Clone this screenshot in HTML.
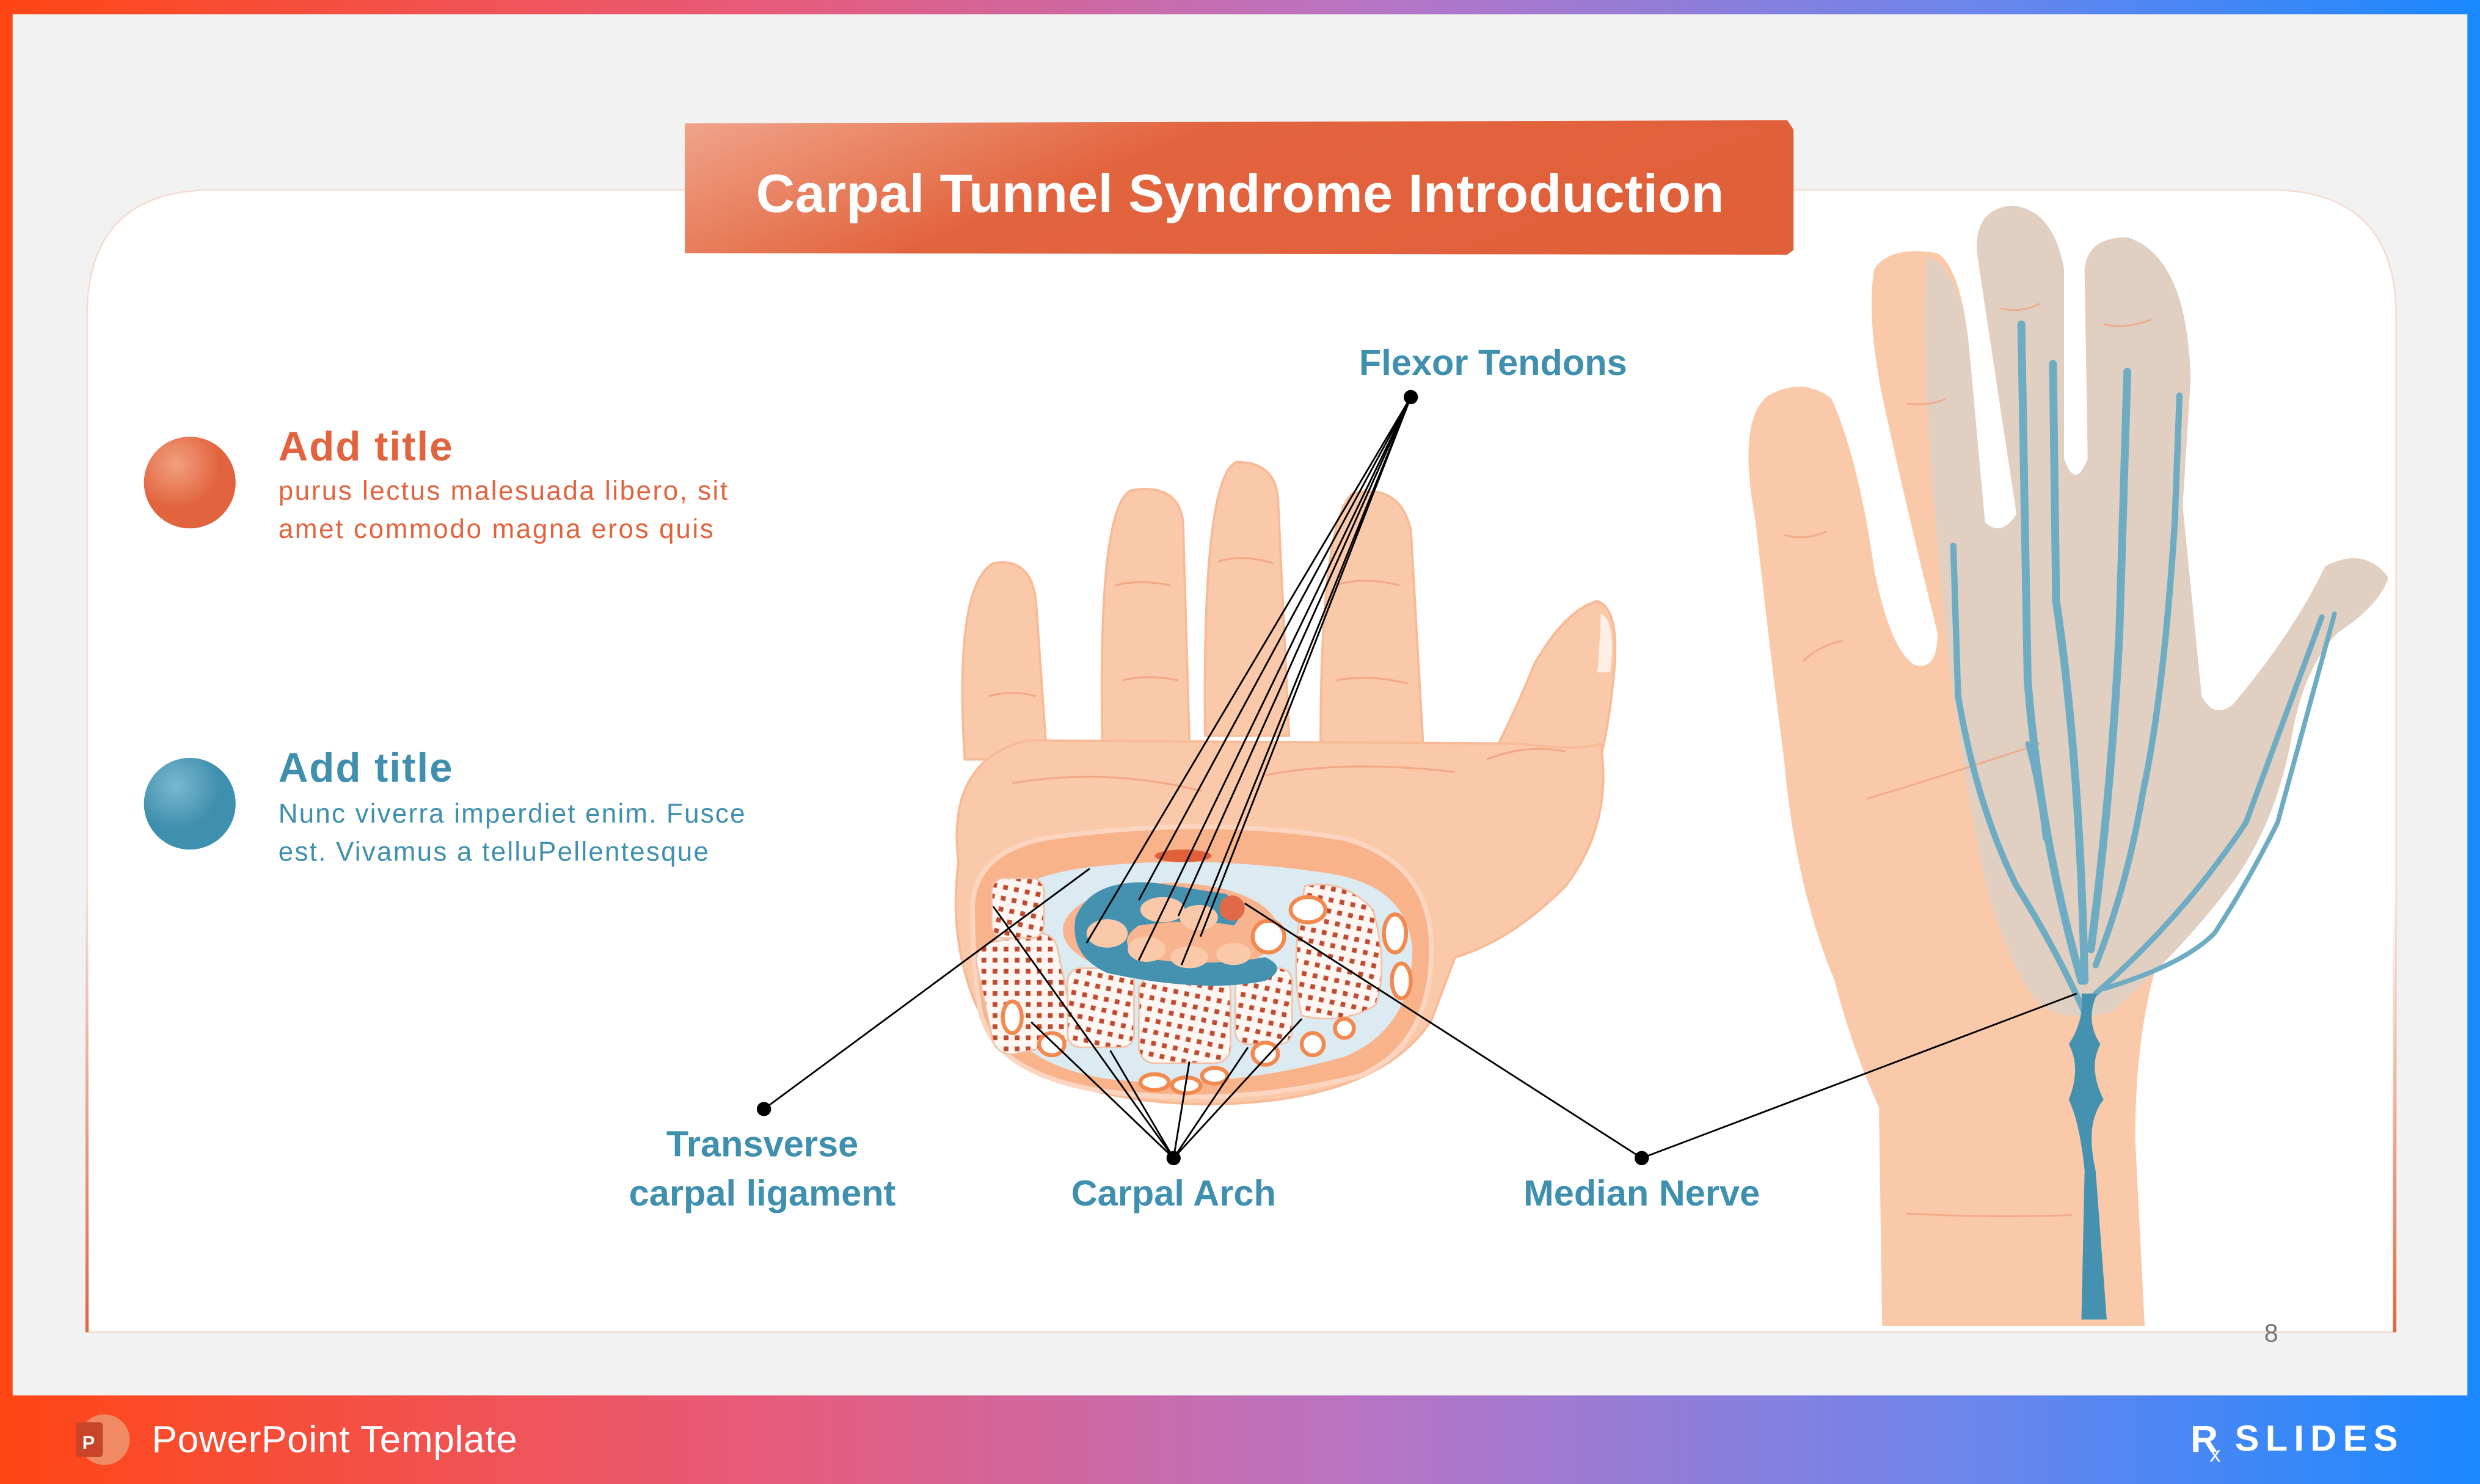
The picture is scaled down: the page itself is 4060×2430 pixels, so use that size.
<!DOCTYPE html>
<html><head><meta charset="utf-8"><style>
html,body{margin:0;padding:0;background:#f2f2f2;}
svg{display:block;}
text{font-family:"Liberation Sans",sans-serif;}
</style></head><body>
<svg width="4060" height="2430" viewBox="0 0 1568 938" preserveAspectRatio="none" xmlns="http://www.w3.org/2000/svg">
<defs>
<linearGradient id="band" x1="0" x2="1" y1="0" y2="0">
<stop offset="0" stop-color="#ff4614"/><stop offset="0.3" stop-color="#e85a78"/><stop offset="0.55" stop-color="#b874c4"/><stop offset="0.8" stop-color="#6a86ec"/><stop offset="1" stop-color="#1a88ff"/></linearGradient>
<linearGradient id="ttl" x1="0" x2="1" y1="0" y2="0.3"><stop offset="0" stop-color="#f0a48a"/><stop offset="0.45" stop-color="#e2643e"/><stop offset="1" stop-color="#e0603a"/></linearGradient>
<radialGradient id="co" cx="0.35" cy="0.3" r="0.8"><stop offset="0" stop-color="#f2a080"/><stop offset="0.6" stop-color="#e2643e"/></radialGradient>
<radialGradient id="cb" cx="0.35" cy="0.3" r="0.8"><stop offset="0" stop-color="#7ab8d0"/><stop offset="0.6" stop-color="#3f8fae"/></radialGradient>
<linearGradient id="edge" x1="0" x2="0" y1="0" y2="1"><stop offset="0" stop-color="#e2643e" stop-opacity="0"/><stop offset="1" stop-color="#e2643e"/></linearGradient>
<pattern id="dots" width="7" height="7" patternUnits="userSpaceOnUse" patternTransform="rotate(12)"><rect width="7" height="7" fill="#fdf6f2"/><rect x="2" y="2" width="3" height="3" fill="#c24a2e"/></pattern>
</defs>
<rect x="0" y="0" width="1568" height="938" fill="#f2f2f2"/>
<rect x="0" y="0" width="1568" height="9" fill="url(#band)"/>
<rect x="0" y="0" width="8" height="938" fill="#ff4614"/>
<rect x="1560" y="0" width="8" height="938" fill="#1a88ff"/>
<rect x="0" y="882" width="1568" height="56" fill="url(#band)"/>
<path d="M55,842 V200 Q55,120 135,120 H1435 Q1515,120 1515,200 V842 Z" fill="#fff" stroke="#f3ddd2" stroke-width="1"/>
<rect x="54" y="560" width="2" height="282" fill="url(#edge)"/>
<rect x="1513" y="560" width="2" height="282" fill="url(#edge)"/>
<path d="M433,78 L1130,76 L1134,82 L1134,158 L1130,161 L433,160 Z" fill="url(#ttl)"/>
<text x="784" y="134" font-size="34" font-weight="bold" fill="#fff" text-anchor="middle" textLength="612">Carpal Tunnel Syndrome Introduction</text>
<circle cx="120" cy="305" r="29" fill="url(#co)"/>
<text x="176" y="291" font-size="26" font-weight="bold" fill="#e2643e" textLength="110">Add title</text>
<text x="176" y="316" font-size="17" fill="#e2643e" textLength="284">purus lectus malesuada libero, sit</text>
<text x="176" y="340" font-size="17" fill="#e2643e" textLength="275">amet commodo magna eros quis</text>
<circle cx="120" cy="508" r="29" fill="url(#cb)"/>
<text x="176" y="494" font-size="26" font-weight="bold" fill="#3f8fae" textLength="110">Add title</text>
<text x="176" y="520" font-size="17" fill="#3f8fae" textLength="295">Nunc viverra imperdiet enim. Fusce</text>
<text x="176" y="544" font-size="17" fill="#3f8fae" textLength="272">est. Vivamus a telluPellentesque</text>

<g fill="#fac9aa" stroke="#f7bb98" stroke-width="1.5">
<path d="M610,480 Q603,370 628,356 Q652,352 655,380 L662,480 Z"/>
<path d="M697,470 Q694,320 715,310 Q745,305 748,330 L752,470 Z"/>
<path d="M762,465 Q760,300 782,292 Q806,292 808,315 L815,465 Z"/>
<path d="M835,470 Q835,330 855,312 Q885,305 892,335 L900,475 Z"/>
<path d="M920,520 Q950,470 970,420 Q990,385 1010,380 Q1025,385 1020,430 Q1015,480 1000,520 Z"/>
<path d="M606,545 Q598,480 650,468 L960,470 Q1000,475 1012,470 Q1020,520 990,560 Q955,595 920,605 L905,645 Q870,698 760,698 Q640,695 615,630 Q600,590 606,545 Z"/>
</g>
<path d="M1012,388 Q1022,392 1018,425 L1010,425 Q1012,400 1012,388 Z" fill="#fff" opacity="0.7"/>
<g fill="none" stroke="#f0a07e" stroke-width="1.2" opacity="0.8">
<path d="M625,440 Q640,436 655,440"/><path d="M705,370 Q720,366 740,370"/><path d="M770,355 Q785,350 805,356"/><path d="M845,370 Q860,364 885,370"/>
<path d="M710,430 Q725,426 745,430"/><path d="M845,430 Q865,426 890,432"/><path d="M640,495 Q700,485 760,500"/><path d="M800,490 Q850,480 920,488"/><path d="M940,480 Q965,470 990,475"/>
</g>
<path d="M615,580 Q612,540 660,530 Q760,515 850,530 Q905,545 905,600 Q905,660 860,680 Q780,700 700,690 Q630,680 620,640 Q615,610 615,580 Z" fill="#f8b38b" stroke="#fbd5bf" stroke-width="3"/>
<path d="M630,585 Q630,555 690,548 Q760,540 840,552 Q890,560 893,600 Q893,650 850,668 Q770,690 700,682 Q640,672 632,635 Z" fill="#dceaf1"/>
<rect x="622" y="592" width="52" height="72" rx="12" fill="url(#dots)" stroke="#f2c0a6" transform="rotate(-12 648 628)"/>
<rect x="627" y="555" width="33" height="38" rx="8" fill="url(#dots)" stroke="#f2c0a6"/>
<rect x="675" y="612" width="42" height="50" rx="8" fill="url(#dots)" stroke="#f2c0a6"/>
<rect x="720" y="617" width="58" height="55" rx="10" fill="url(#dots)" stroke="#f2c0a6"/>
<rect x="781" y="612" width="36" height="48" rx="8" fill="url(#dots)" stroke="#f2c0a6"/>
<path d="M825,560 Q850,555 868,575 Q878,610 870,635 Q850,648 823,642 Q815,610 825,560 Z" fill="url(#dots)" stroke="#f2c0a6"/>
<ellipse cx="740" cy="588" rx="68" ry="30" fill="#f7b48e"/>
<path d="M680,580 Q690,555 730,558 L775,565 Q790,575 780,585 Q755,580 720,585 Q705,595 720,605 Q760,612 800,605 Q815,612 800,620 Q760,628 700,615 Q676,604 680,580 Z" fill="#4592b0"/>
<ellipse cx="700" cy="590" rx="13" ry="9" fill="#f9c9aa"/><ellipse cx="735" cy="575" rx="14" ry="8" fill="#f9c9aa"/><ellipse cx="758" cy="580" rx="12" ry="8" fill="#f9c9aa"/><ellipse cx="725" cy="600" rx="12" ry="8" fill="#f9c9aa"/><ellipse cx="752" cy="605" rx="12" ry="7" fill="#f9c9aa"/><ellipse cx="780" cy="603" rx="11" ry="7" fill="#f9c9aa"/>
<ellipse cx="748" cy="541" rx="18" ry="4" fill="#e0603a"/>
<circle cx="779" cy="574" r="8" fill="#e06a48"/>
<g fill="#fff" stroke="#f28a50" stroke-width="2.5">
<circle cx="802" cy="592" r="10"/><ellipse cx="827" cy="575" rx="11" ry="8"/><ellipse cx="882" cy="590" rx="7" ry="12"/><ellipse cx="886" cy="620" rx="6" ry="11"/>
<ellipse cx="640" cy="643" rx="6" ry="10"/><ellipse cx="665" cy="660" rx="8" ry="7"/><ellipse cx="730" cy="684" rx="9" ry="5"/><ellipse cx="750" cy="686" rx="9" ry="5"/><ellipse cx="768" cy="680" rx="8" ry="5"/><ellipse cx="800" cy="666" rx="8" ry="7"/><ellipse cx="830" cy="660" rx="7" ry="7"/><ellipse cx="850" cy="650" rx="6" ry="6"/>
</g>

<path d="M1190,838 L1188,700 Q1170,660 1160,620 Q1135,560 1128,480 Q1120,420 1110,330 Q1098,265 1118,250 Q1140,238 1158,252 Q1175,290 1185,360 Q1195,410 1210,420 Q1225,425 1225,400 Q1205,320 1190,250 Q1180,200 1185,170 Q1195,155 1225,160 Q1240,170 1245,220 L1255,330 Q1265,340 1275,325 Q1262,240 1250,160 Q1248,132 1272,130 Q1298,132 1305,170 L1305,290 Q1312,310 1320,290 L1318,170 Q1320,150 1345,150 Q1383,162 1385,240 L1380,320 L1392,440 Q1400,455 1412,445 Q1450,400 1470,358 Q1495,345 1510,365 Q1505,382 1478,400 Q1458,420 1450,460 Q1440,520 1410,560 Q1380,590 1362,615 Q1350,660 1350,720 L1356,838 Z" fill="#fac9aa"/>
<path d="M1218,162 Q1240,170 1245,220 L1255,330 Q1265,340 1275,325 Q1262,240 1250,160 Q1248,132 1272,130 Q1298,132 1305,170 L1305,290 Q1312,310 1320,290 L1318,170 Q1320,150 1345,150 Q1383,162 1385,240 L1380,320 L1392,440 Q1400,455 1412,445 Q1450,400 1470,358 Q1495,345 1510,365 Q1505,382 1478,400 Q1458,420 1450,460 Q1440,520 1410,560 Q1380,600 1335,640 Q1300,648 1285,630 Q1260,590 1250,530 Q1232,440 1224,330 Q1215,240 1218,162 Z" fill="#e1d0c2"/>
<g fill="none" stroke="#f0a07e" stroke-width="1.2" opacity="0.7">
<path d="M1128,338 Q1140,342 1155,336"/><path d="M1205,255 Q1220,257 1230,252"/><path d="M1265,195 Q1278,198 1290,192"/><path d="M1330,205 Q1345,208 1360,202"/><path d="M1140,418 Q1150,408 1165,405"/><path d="M1180,505 Q1230,490 1290,470"/><path d="M1205,767 Q1260,770 1310,768"/>
</g>
<g fill="none" stroke="#6eacc4" stroke-linecap="round">
<path d="M1318,640 Q1300,600 1275,560 Q1250,510 1238,440 L1235,345" stroke-width="4"/>
<path d="M1316,620 Q1290,530 1282,430 L1278,205" stroke-width="5"/>
<path d="M1318,620 Q1315,480 1300,380 L1298,230" stroke-width="5"/>
<path d="M1322,600 Q1335,500 1340,400 L1345,235" stroke-width="5"/>
<path d="M1325,610 Q1345,560 1355,500 Q1368,440 1375,330 L1378,250" stroke-width="4"/>
<path d="M1325,628 Q1380,580 1420,520 L1468,390" stroke-width="3.5"/>
<path d="M1330,625 Q1380,610 1400,590 Q1420,560 1440,520 L1476,388" stroke-width="3"/>
<path d="M1282,470 Q1290,500 1293,530" stroke-width="3"/>
</g>
<path d="M1316,628 L1326,628 Q1318,645 1328,660 Q1320,675 1330,695 Q1318,710 1325,740 L1332,834 L1316,834 L1318,740 Q1315,710 1308,695 Q1316,675 1308,660 Q1318,645 1316,628 Z" fill="#4592b0"/>

<g stroke="#000" stroke-width="1.1">
<line x1="892" y1="251" x2="720" y2="569"/><line x1="892" y1="251" x2="745" y2="579"/><line x1="892" y1="251" x2="687" y2="596"/><line x1="892" y1="251" x2="720" y2="607"/><line x1="892" y1="251" x2="747" y2="610"/><line x1="892" y1="251" x2="759" y2="592"/>
<line x1="483" y1="701" x2="689" y2="549"/>
<line x1="742" y1="732" x2="628" y2="573"/><line x1="742" y1="732" x2="652" y2="646"/><line x1="742" y1="732" x2="702" y2="664"/><line x1="742" y1="732" x2="752" y2="671"/><line x1="742" y1="732" x2="789" y2="662"/><line x1="742" y1="732" x2="823" y2="644"/>
<line x1="1038" y1="732" x2="787" y2="571"/><line x1="1038" y1="732" x2="1313" y2="628"/>
</g>
<g fill="#000"><circle cx="892" cy="251" r="4.5"/><circle cx="483" cy="701" r="4.5"/><circle cx="742" cy="732" r="4.5"/><circle cx="1038" cy="732" r="4.5"/></g>
<g font-size="23" font-weight="bold" fill="#3f8fae" text-anchor="middle">
<text x="944" y="237">Flexor Tendons</text>
<text x="482" y="731">Transverse</text>
<text x="482" y="762">carpal ligament</text>
<text x="742" y="762">Carpal Arch</text>
<text x="1038" y="762">Median Nerve</text>
</g>
<text x="1436" y="848" font-size="16" fill="#777" text-anchor="middle">8</text>
<circle cx="66" cy="910" r="16" fill="#f08a64"/>
<rect x="48" y="899" width="17" height="22" rx="2" fill="#c8452a"/>
<text x="52" y="916" font-size="12" fill="#fff" font-weight="bold">P</text>
<text x="96" y="918" font-size="24" fill="#fff" textLength="231">PowerPoint Template</text>
<text x="1385" y="918" font-size="24" fill="#fff" font-weight="bold">R</text>
<text x="1397" y="924" font-size="14" fill="#fff">x</text>
<text x="1413" y="917" font-size="23" fill="#fff" font-weight="bold" letter-spacing="2" textLength="105">SLIDES</text>
</svg>
</body></html>
